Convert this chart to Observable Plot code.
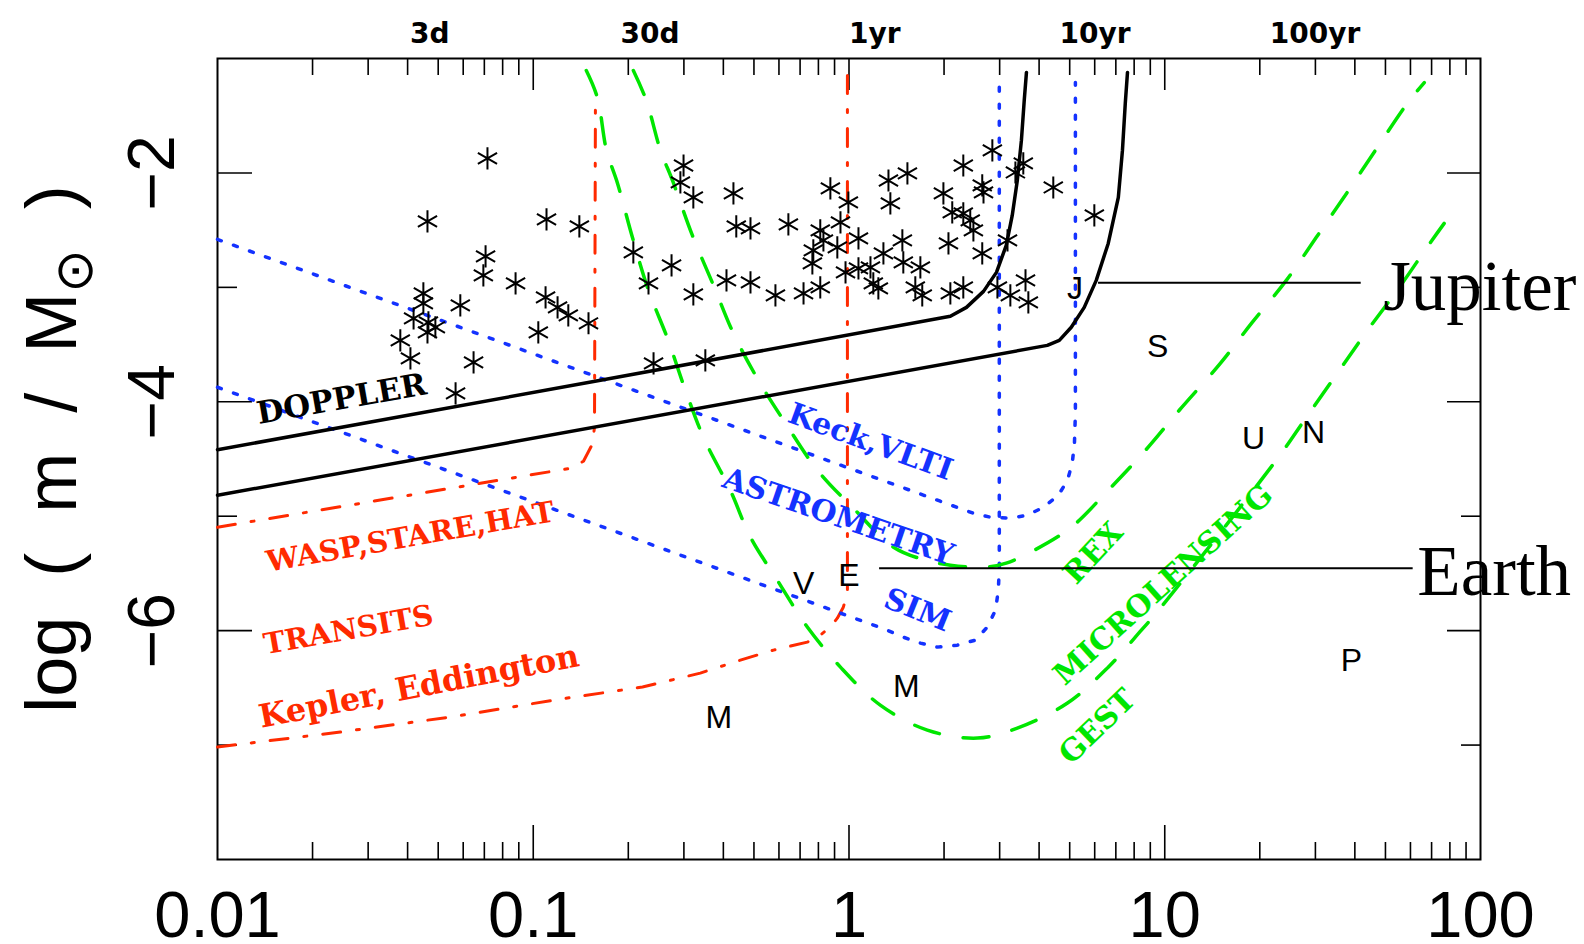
<!DOCTYPE html>
<html>
<head>
<meta charset="utf-8">
<script src="https://cdn.jsdelivr.net/npm/d3@7"></script>
<script src="https://cdn.jsdelivr.net/npm/@observablehq/plot@0.6"></script>
<style>
  html, body { margin: 0; padding: 0; background: #ffffff; }
</style>
</head>
<body>
<div id="chart"></div>
<script>
// ---------------- DATA (x values as log10 of semi-major axis in AU, y = log10(m/Msun)) ----------------
const xTickValues = [0.01, 0.1, 1, 10, 100];
const xTickLabels = ["0.01", "0.1", "1", "10", "100"];
const xMajorTicks = [0.1, 1, 10];
const xMinorTicks = [0.02, 0.03, 0.04, 0.05, 0.06, 0.07, 0.08, 0.09,
                     0.2, 0.3, 0.4, 0.5, 0.6, 0.7, 0.8, 0.9,
                     2, 3, 4, 5, 6, 7, 8, 9,
                     20, 30, 40, 50, 60, 70, 80, 90];
const yMajorTicks = [-2, -4, -6];
const yMinorTicks = [-3, -5, -7];
const yTickLabels = ["\u22122", "\u22124", "\u22126"];
const yTitle = "log ( m / M\u2299 )";

// top axis: orbital period labels placed at the corresponding semi-major axis (AU)
const periodLabels = ["3d", "30d", "1yr", "10yr", "100yr"];
const periodA = [0.0407, 0.189, 1, 4.64, 21.5];

// Doppler sensitivity curves [log a, log m]
const dopplerUpper = [[-2, -4.419], [-0.787, -3.812], [0.321, -3.253], [0.372, -3.175], [0.426, -3.035], [0.467, -2.869],
  [0.498, -2.633], [0.517, -2.371], [0.533, -2.066], [0.546, -1.716], [0.555, -1.367], [0.562, -1.122]];
const dopplerLower = [[-2, -4.817], [0.628, -3.507], [0.666, -3.463], [0.704, -3.349], [0.745, -3.175],
  [0.783, -2.939], [0.821, -2.616], [0.853, -2.214], [0.866, -1.803], [0.875, -1.393], [0.882, -1.122]];

// Astrometry (blue dotted)
const astroKeck = [[-2, -2.581], [0.289, -4.869], [0.394, -4.974], [0.448, -5.009], [0.511, -5.017],
  [0.565, -4.991], [0.616, -4.921], [0.663, -4.817], [0.692, -4.686], [0.707, -4.537], [0.714, -4.362],
  [0.717, -4.100], [0.717, -1.210]];
const astroSIM = [[-2, -3.873], [0.109, -5.983], [0.172, -6.057], [0.226, -6.109], [0.280, -6.144],
  [0.343, -6.127], [0.400, -6.083], [0.438, -5.969], [0.464, -5.821], [0.473, -5.646], [0.476, -5.445],
  [0.476, -1.210]];

// Transits (red dash-dot)
const transitGround = [[-2, -5.096], [-0.882, -4.581], [-0.841, -4.520], [-0.813, -4.371], [-0.806, -4.223],
  [-0.803, -1.341]];
const transitSpace = [[-2, -7.017], [-1.611, -6.886], [-1.262, -6.755], [-0.914, -6.598], [-0.654, -6.493],
  [-0.471, -6.371], [-0.344, -6.258], [-0.239, -6.170], [-0.132, -6.100], [-0.091, -6.039], [-0.059, -5.969],
  [-0.037, -5.891], [-0.018, -5.795], [-0.005, -5.672], [-0.005, -1.105]];

// Microlensing (green dashed)
const lensREX = [[-0.683, -1.105], [-0.642, -1.367], [-0.597, -1.803], [-0.559, -2.066], [-0.496, -2.546],
  [-0.429, -2.983], [-0.366, -3.402], [-0.287, -3.812], [-0.201, -4.188], [-0.100, -4.598], [0.020, -4.948],
  [0.141, -5.271], [0.242, -5.384], [0.321, -5.428], [0.432, -5.445], [0.498, -5.410], [0.587, -5.297],
  [0.704, -5.096], [0.821, -4.773], [0.939, -4.424], [1.046, -4.074], [1.176, -3.664], [1.277, -3.306],
  [1.385, -2.939], [1.480, -2.563], [1.578, -2.170], [1.667, -1.803], [1.768, -1.393], [1.822, -1.210]];
const lensGEST = [[-0.832, -1.105], [-0.797, -1.341], [-0.768, -1.803], [-0.733, -2.092], [-0.686, -2.563],
  [-0.635, -3.026], [-0.575, -3.445], [-0.518, -3.900], [-0.461, -4.310], [-0.376, -4.773], [-0.312, -5.183],
  [-0.227, -5.559], [-0.132, -5.969], [-0.027, -6.319], [0.099, -6.651], [0.248, -6.869], [0.407, -6.939],
  [0.533, -6.852], [0.692, -6.633], [0.821, -6.319], [0.926, -5.996], [0.973, -5.847], [1.353, -4.511],
  [1.442, -4.162], [1.553, -3.725], [1.642, -3.376], [1.743, -3.000], [1.835, -2.633], [1.885, -2.441]];

// Known exoplanets (asterisks) [log a, log m]
const exoplanets = [
  [-1.145, -1.873], [-1.335, -2.424], [-0.958, -2.406], [-0.854, -2.467], [-1.151, -2.729], [-1.158, -2.895],
  [-1.056, -2.965], [-0.961, -3.087], [-0.923, -3.175], [-0.889, -3.245], [-0.825, -3.314], [-0.984, -3.393],
  [-1.231, -3.157], [-1.348, -3.052], [-1.348, -3.140], [-1.379, -3.271], [-1.332, -3.306], [-1.310, -3.349],
  [-1.335, -3.393], [-1.421, -3.463], [-1.389, -3.620], [-1.189, -3.655], [-1.246, -3.926],
  [-0.524, -1.935], [-0.534, -2.083], [-0.493, -2.214], [-0.366, -2.179], [-0.357, -2.467], [-0.312, -2.485],
  [-0.683, -2.694], [-0.562, -2.808], [-0.635, -2.965], [-0.493, -3.061], [-0.388, -2.939], [-0.312, -2.956],
  [-0.619, -3.664], [-0.455, -3.638],
  [-0.192, -2.450], [-0.233, -3.070], [-0.144, -3.052], [-0.091, -3.000], [-0.059, -2.135], [-0.002, -2.258],
  [-0.027, -2.432], [-0.091, -2.502], [-0.081, -2.590], [-0.113, -2.677], [-0.116, -2.790], [-0.037, -2.651],
  [0.030, -2.572], [-0.011, -2.869], [0.030, -2.834], [0.068, -2.825], [0.077, -2.965], [0.093, -3.009],
  [0.109, -2.703], [0.169, -2.590], [0.172, -2.782], [0.226, -2.825], [0.210, -3.000], [0.232, -3.070],
  [0.125, -2.066], [0.185, -2.004], [0.131, -2.266], [0.299, -2.179], [0.315, -2.616], [0.321, -3.052],
  [0.362, -3.000], [0.362, -1.935], [0.422, -2.109], [0.426, -2.170], [0.327, -2.345], [0.362, -2.354],
  [0.384, -2.415], [0.394, -2.502], [0.422, -2.703], [0.502, -2.590], [0.527, -1.996], [0.552, -1.917],
  [0.454, -1.803], [0.647, -2.127], [0.470, -3.000], [0.511, -3.070], [0.559, -2.939], [0.568, -3.131],
  [0.777, -2.371]
];

// Solar-system planets
const planetLetters = ["M", "V", "E", "M", "J", "S", "U", "N", "P"];
const planetA = [0.387, 0.718, 1.0, 1.52, 5.2, 9.5, 19.1, 29.6, 39.0];
const planetLogM = [-6.76, -5.59, -5.52, -6.49, -3.01, -3.52, -4.32, -4.27, -6.26];

// Technique labels [text, log a, log m]
const dopplerLabel = [["DOPPLER", -1.607, -3.978]];
const transitLabels = [["WASP,STARE,HAT", -1.389, -5.183], ["TRANSITS", -1.585, -5.996]];
const keplerLabel = [["Kepler, Eddington", -1.362, -6.49]];
const astroLabels = [["Keck,VLTI", 0.068, -4.351], ["ASTROMETRY", -0.034, -5.006], ["SIM", 0.217, -5.821]];
const lensLabels = [["REX", 0.774, -5.323], ["MICROLENSING", 0.995, -5.60], ["GEST", 0.787, -6.840]];

// Annotations
const annoNames = ["Jupiter", "Earth"];
const annoLineY = [-2.959, -5.454];
const annoLineA1 = [6.17, 1.25];
const annoLineA2 = [41.9, 61.2];
const annoTextA = [49.2, 63.1];
const annoTextY = [-3.20, -5.69];

// ---------------- STYLE ----------------
const RED = "#ff2a00", BLUE = "#1432ff", GREEN = "#00e600";
const W = 1584, H = 944, ML = 217, MR = 104, MT = 58, MB = 85;
const PW = W - ML - MR, PH = H - MT - MB;
const lx = d => 10 ** d[0], ly = d => d[1];
const labX = d => 10 ** d[1], labY = d => d[2], labT = d => d[0];
const serif = "DejaVu Serif";

const svg = Plot.plot({
  width: W, height: H,
  marginLeft: ML, marginRight: MR, marginTop: MT, marginBottom: MB,
  style: {background: "#ffffff", overflow: "visible"},
  x: {type: "log", domain: [0.01, 100], axis: null},
  y: {domain: [-8, -1], axis: null},
  marks: [
    // ticks (inside the frame)
    Plot.tickX(xMinorTicks, {x: d => d, insetTop: PH - 17, stroke: "black", strokeWidth: 1.6}),
    Plot.tickX(xMajorTicks, {x: d => d, insetTop: PH - 34, stroke: "black", strokeWidth: 1.6}),
    Plot.tickX(xMinorTicks, {x: d => d, insetBottom: PH - 17, stroke: "black", strokeWidth: 1.6}),
    Plot.tickX(xMajorTicks, {x: d => d, insetBottom: PH - 32, stroke: "black", strokeWidth: 1.6}),
    Plot.tickY(yMajorTicks, {y: d => d, insetRight: PW - 35, stroke: "black", strokeWidth: 1.6}),
    Plot.tickY(yMinorTicks, {y: d => d, insetRight: PW - 20, stroke: "black", strokeWidth: 1.6}),
    Plot.tickY(yMajorTicks, {y: d => d, insetLeft: PW - 33, stroke: "black", strokeWidth: 1.6}),
    Plot.tickY(yMinorTicks, {y: d => d, insetLeft: PW - 19, stroke: "black", strokeWidth: 1.6}),
    Plot.frame({stroke: "black", strokeWidth: 2}),

    // tick labels
    Plot.text(xTickValues, {x: d => d, text: (d, i) => xTickLabels[i], frameAnchor: "bottom", dy: 77,
      lineAnchor: "bottom", textAnchor: "middle", fontSize: 65, fontFamily: "Liberation Sans", fill: "black"}),
    Plot.text(yMajorTicks, {y: d => d, text: (d, i) => yTickLabels[i], frameAnchor: "left", dx: -44,
      rotate: -90, lineAnchor: "bottom", textAnchor: "middle", fontSize: 66, fontFamily: "Liberation Sans", fill: "black"}),
    Plot.text(periodA, {x: d => d, text: (d, i) => periodLabels[i], frameAnchor: "top", dy: -16,
      lineAnchor: "bottom", textAnchor: "start", fontSize: 28, fontWeight: "bold", fontFamily: "DejaVu Sans", fill: "black"}),
    Plot.text([yTitle], {frameAnchor: "left", dx: -142, dy: -10, rotate: -90, lineAnchor: "bottom",
      textAnchor: "middle", fontSize: 72, fontFamily: "Liberation Sans", fill: "black"}),

    // curves
    Plot.line(transitGround, {x: lx, y: ly, stroke: RED, strokeWidth: 3, strokeDasharray: "18,16,3,16", strokeLinejoin: "round"}),
    Plot.line(transitSpace, {x: lx, y: ly, stroke: RED, strokeWidth: 3, strokeDasharray: "18,16,3,16", strokeLinejoin: "round"}),
    Plot.line(astroKeck, {x: lx, y: ly, stroke: BLUE, strokeWidth: 3.5, strokeDasharray: "4,13", strokeLinejoin: "round"}),
    Plot.line(astroSIM, {x: lx, y: ly, stroke: BLUE, strokeWidth: 3.5, strokeDasharray: "4,13", strokeLinejoin: "round"}),
    Plot.line(lensREX, {x: lx, y: ly, stroke: GREEN, strokeWidth: 3.5, strokeDasharray: "26,24", curve: "catmull-rom"}),
    Plot.line(lensGEST, {x: lx, y: ly, stroke: GREEN, strokeWidth: 3.5, strokeDasharray: "26,24", curve: "catmull-rom"}),
    Plot.line(dopplerUpper, {x: lx, y: ly, stroke: "black", strokeWidth: 3.5, strokeLinejoin: "round"}),
    Plot.line(dopplerLower, {x: lx, y: ly, stroke: "black", strokeWidth: 3.5, strokeLinejoin: "round"}),

    // exoplanets
    Plot.dot(exoplanets, {x: lx, y: ly, symbol: "asterisk", r: 10.5, stroke: "black", strokeWidth: 2}),

    // solar system letters
    Plot.text(planetLetters, {x: (d, i) => planetA[i], y: (d, i) => planetLogM[i], text: d => d,
      fontSize: 32, fontFamily: "Liberation Sans", fill: "black"}),

    // technique labels
    Plot.text(dopplerLabel, {x: labX, y: labY, text: labT, rotate: -10, fontSize: 31,
      fontWeight: "bold", fontFamily: serif, fill: "black"}),
    Plot.text(transitLabels, {x: labX, y: labY, text: labT, rotate: -10, fontSize: 29,
      fontWeight: "bold", fontFamily: serif, fill: RED}),
    Plot.text(keplerLabel, {x: labX, y: labY, text: labT, rotate: -11, fontSize: 32,
      fontWeight: "bold", fontFamily: serif, fill: RED}),
    Plot.text(astroLabels, {x: labX, y: labY, text: labT, rotate: (d, i) => [20, 19, 22][i], fontSize: 30,
      fontWeight: "bold", fontFamily: serif, fill: BLUE}),
    Plot.text(lensLabels, {x: labX, y: labY, text: labT, rotate: (d, i) => [-47, -42, -44][i], fontSize: 30,
      fontWeight: "bold", fontFamily: serif, fill: GREEN}),

    // annotations
    Plot.ruleY(annoLineY, {y: d => d, x1: (d, i) => annoLineA1[i], x2: (d, i) => annoLineA2[i], stroke: "black", strokeWidth: 2}),
    Plot.text(annoNames, {x: (d, i) => annoTextA[i], y: (d, i) => annoTextY[i], text: d => d, textAnchor: "start",
      lineAnchor: "bottom", fontSize: 71, fontFamily: "Liberation Serif", fill: "black"})
  ]
});

// subscript sun symbol in the y-axis title
d3.select(svg).selectAll("text").filter(function () { return this.textContent === yTitle; })
  .each(function () {
    const t = d3.select(this);
    t.text(null);
    t.append("tspan").text("log\u00a0\u00a0(\u00a0\u00a0m\u00a0\u00a0/\u00a0\u00a0M");
    t.append("tspan").attr("font-size", 52).attr("dy", 16).attr("font-family", "DejaVu Sans").text("\u2299");
    t.append("tspan").attr("dy", -16).text("\u00a0\u00a0)");
  });

document.getElementById("chart").appendChild(svg);
</script>
</body>
</html>
